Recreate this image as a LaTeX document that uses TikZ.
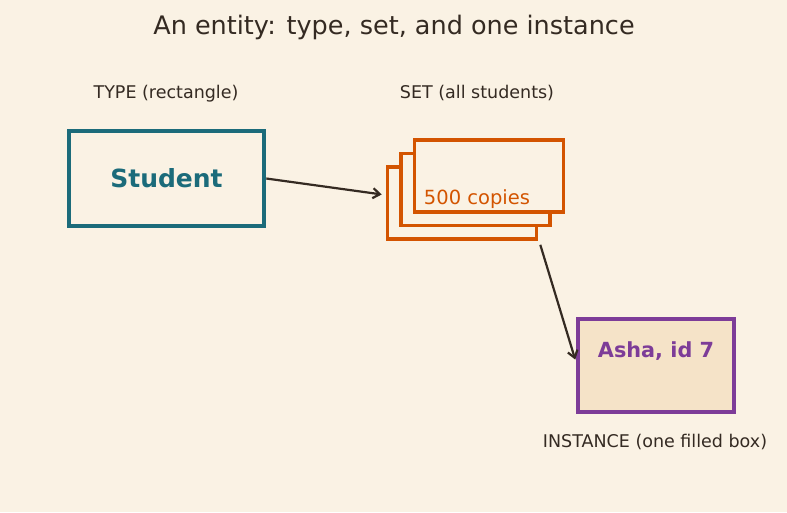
\documentclass[tikz,border=0pt]{standalone}
\usepackage{fontspec}
\setmainfont{DejaVu Sans}
\usetikzlibrary{arrows.meta, positioning}
\definecolor{papercream}{HTML}{FAF2E4}
\definecolor{inkbrown}{HTML}{342A22}
\definecolor{deepteal}{HTML}{1B6B7A}
\definecolor{burntorange}{HTML}{D35400}
\definecolor{plumpurple}{HTML}{7D3C98}
\definecolor{sandfill}{HTML}{F5E3C8}

\begin{document}
\begin{tikzpicture}[x=1pt, y=-1pt,
	caption/.style={text=inkbrown, font=\fontsize{17.5}{21}\selectfont},
	setbox/.style={draw=burntorange, fill=papercream, line width=3.6pt,
		minimum width=149pt, minimum height=72pt},
	link/.style={draw=inkbrown, line width=2.2pt, -{Straight Barb[length=7pt, width=10pt]}}]
	\fill[papercream] (0,0) rectangle (787,512);

	\node[text=inkbrown, font=\fontsize{25.5}{30}\selectfont] (title) at (394,27.5) {An entity: type, set, and one instance};

	\node[caption] (typecap) at (166,93.5) {TYPE (rectangle)};
	\node[caption] (setcap) at (477,93.5) {SET (all students)};
	\node[caption] (instcap) at (655,441.5) {INSTANCE (one filled box)};

	\node[draw=deepteal, line width=4.6pt, minimum width=195pt, minimum height=95pt,
		text=deepteal, font=\bfseries\fontsize{25}{30}\selectfont] (student) at (166.5,178.5) {Student};

	\node[setbox] (back) at (462,203) {};
	\node[setbox] (middle) at (475.5,189.5) {};
	\node[setbox] (front) at (489,176) {};
	\node[text=burntorange, font=\fontsize{19.5}{23}\selectfont] (copies) at (477,199.5) {500 copies};

	\node[draw=plumpurple, fill=sandfill, line width=4.4pt, minimum width=156pt, minimum height=93pt] (asha) at (656,365.5) {};
	\node[text=plumpurple, font=\bfseries\fontsize{20.8}{25}\selectfont] (ashatext) at (656,351.5) {Asha, id 7};

	\draw[link, shorten >=4pt] (student.east) -- ([yshift=8pt]back.west);
	\draw[link, shorten >=2pt] ([shift={(2pt,-4pt)}]back.south east) -- ([yshift=4pt]asha.west);
\end{tikzpicture}
\end{document}
